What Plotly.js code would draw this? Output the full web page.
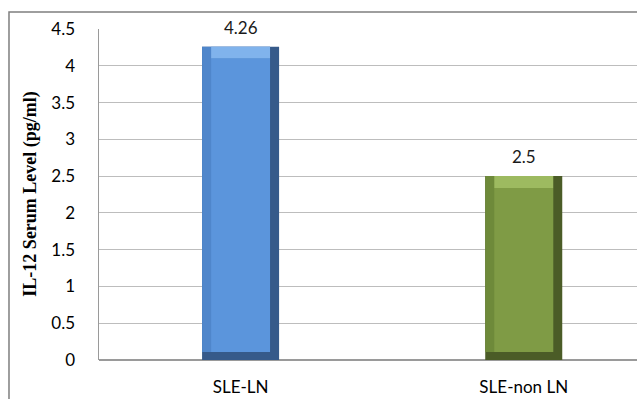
<!DOCTYPE html>
<html>
<head>
<meta charset="utf-8">
<script src="https://cdn.plot.ly/plotly-3.0.1.min.js"></script>
<style>html,body{margin:0;padding:0;background:#fff;}#chart{width:637px;height:399px;}</style>
</head>
<body>
<div id="chart"></div>
<script>
// Data
const categories = ["SLE-LN", "SLE-non LN"];
const values = [4.26, 2.5];
const valueLabels = ["4.26", "2.5"];
const yTickVals = [0, 0.5, 1, 1.5, 2, 2.5, 3, 3.5, 4, 4.5];
const yTickText = ["0", "0.5", "1", "1.5", "2", "2.5", "3", "3.5", "4", "4.5"];

// Styles
const mainColors  = ["#5B95DC", "#7F9B45"];
const lightColors = ["#80B3EC", "#9DBA60"];
const sideColors  = ["#4F86CB", "#6E8A3A"];
const darkColors  = ["#365A8A", "#4B5C27"];
const W = 0.272, BX = 0.032, BYB = 0.11, BYT = 0.16;
const font = "Lato, 'Open Sans', sans-serif";

const xIdx = categories.map((c, i) => i);

const traces = [
  { type: "bar", x: xIdx, y: values, base: 0, width: W,
    marker: { color: darkColors, line: { width: 0 } }, hoverinfo: "skip" },
  { type: "bar", x: xIdx, y: values.map(v => v - BYB), base: BYB, width: W - BX, offset: -W / 2,
    marker: { color: sideColors, line: { width: 0 } }, hoverinfo: "skip" },
  { type: "bar", x: xIdx, y: values.map(() => BYT), base: values.map(v => v - BYT), width: W - 2 * BX, offset: -W / 2 + BX,
    marker: { color: lightColors, line: { width: 0 } }, hoverinfo: "skip" },
  { type: "bar", x: xIdx, y: values.map(v => v - BYT - BYB), base: BYB, width: W - 2 * BX, offset: -W / 2 + BX,
    marker: { color: mainColors, line: { width: 0 } }, hoverinfo: "skip" }
];

const annotations = categories.map((c, i) => ({
  x: i, y: values[i], xref: "x", yref: "y", text: valueLabels[i],
  showarrow: false, yanchor: "bottom", yshift: 7,
  font: { family: font, size: 17, color: "#1a1a1a" }
}));
annotations.push({
  x: -0.128, y: 0.5, xref: "paper", yref: "paper", xanchor: "center", yanchor: "middle",
  textangle: -90,
  text: "<b>IL-12 Serum Level (pg/ml)</b>", showarrow: false,
  font: { family: "'Liberation Serif', 'Times New Roman', serif", size: 18, color: "#000" }
});

const layout = {
  width: 637, height: 399,
  margin: { l: 99, r: 0, t: 29, b: 39 },
  paper_bgcolor: "#fff", plot_bgcolor: "#fff",
  barmode: "overlay", showlegend: false,
  font: { family: font, size: 17, color: "#000" },
  xaxis: {
    range: [-0.5, 1.4], tickvals: xIdx, ticktext: categories,
    showgrid: false, zeroline: false, showline: false, ticks: "",
    ticklabelstandoff: 15, tickfont: { family: font, size: 17, color: "#000" }
  },
  yaxis: {
    range: [0, 4.5], tickvals: yTickVals, ticktext: yTickText,
    showgrid: true, gridcolor: "#BDBDBD", gridwidth: 1,
    zeroline: true, zerolinecolor: "#9A9A9A", zerolinewidth: 1.5,
    showline: true, linecolor: "#9A9A9A", linewidth: 1.5,
    ticks: "", ticklabelstandoff: 19,
    tickfont: { family: font, size: 17, color: "#000" }
  },
  annotations: annotations,
  shapes: [{
    type: "rect", xref: "paper", yref: "paper",
    x0: -0.1673, x1: 1.2, y0: -0.3, y1: 1.0514,
    line: { color: "#7F7F7F", width: 1.5 }, fillcolor: "rgba(0,0,0,0)", layer: "below"
  }]
};

Plotly.newPlot("chart", traces, layout, { displayModeBar: false, staticPlot: true });
</script>
</body>
</html>
